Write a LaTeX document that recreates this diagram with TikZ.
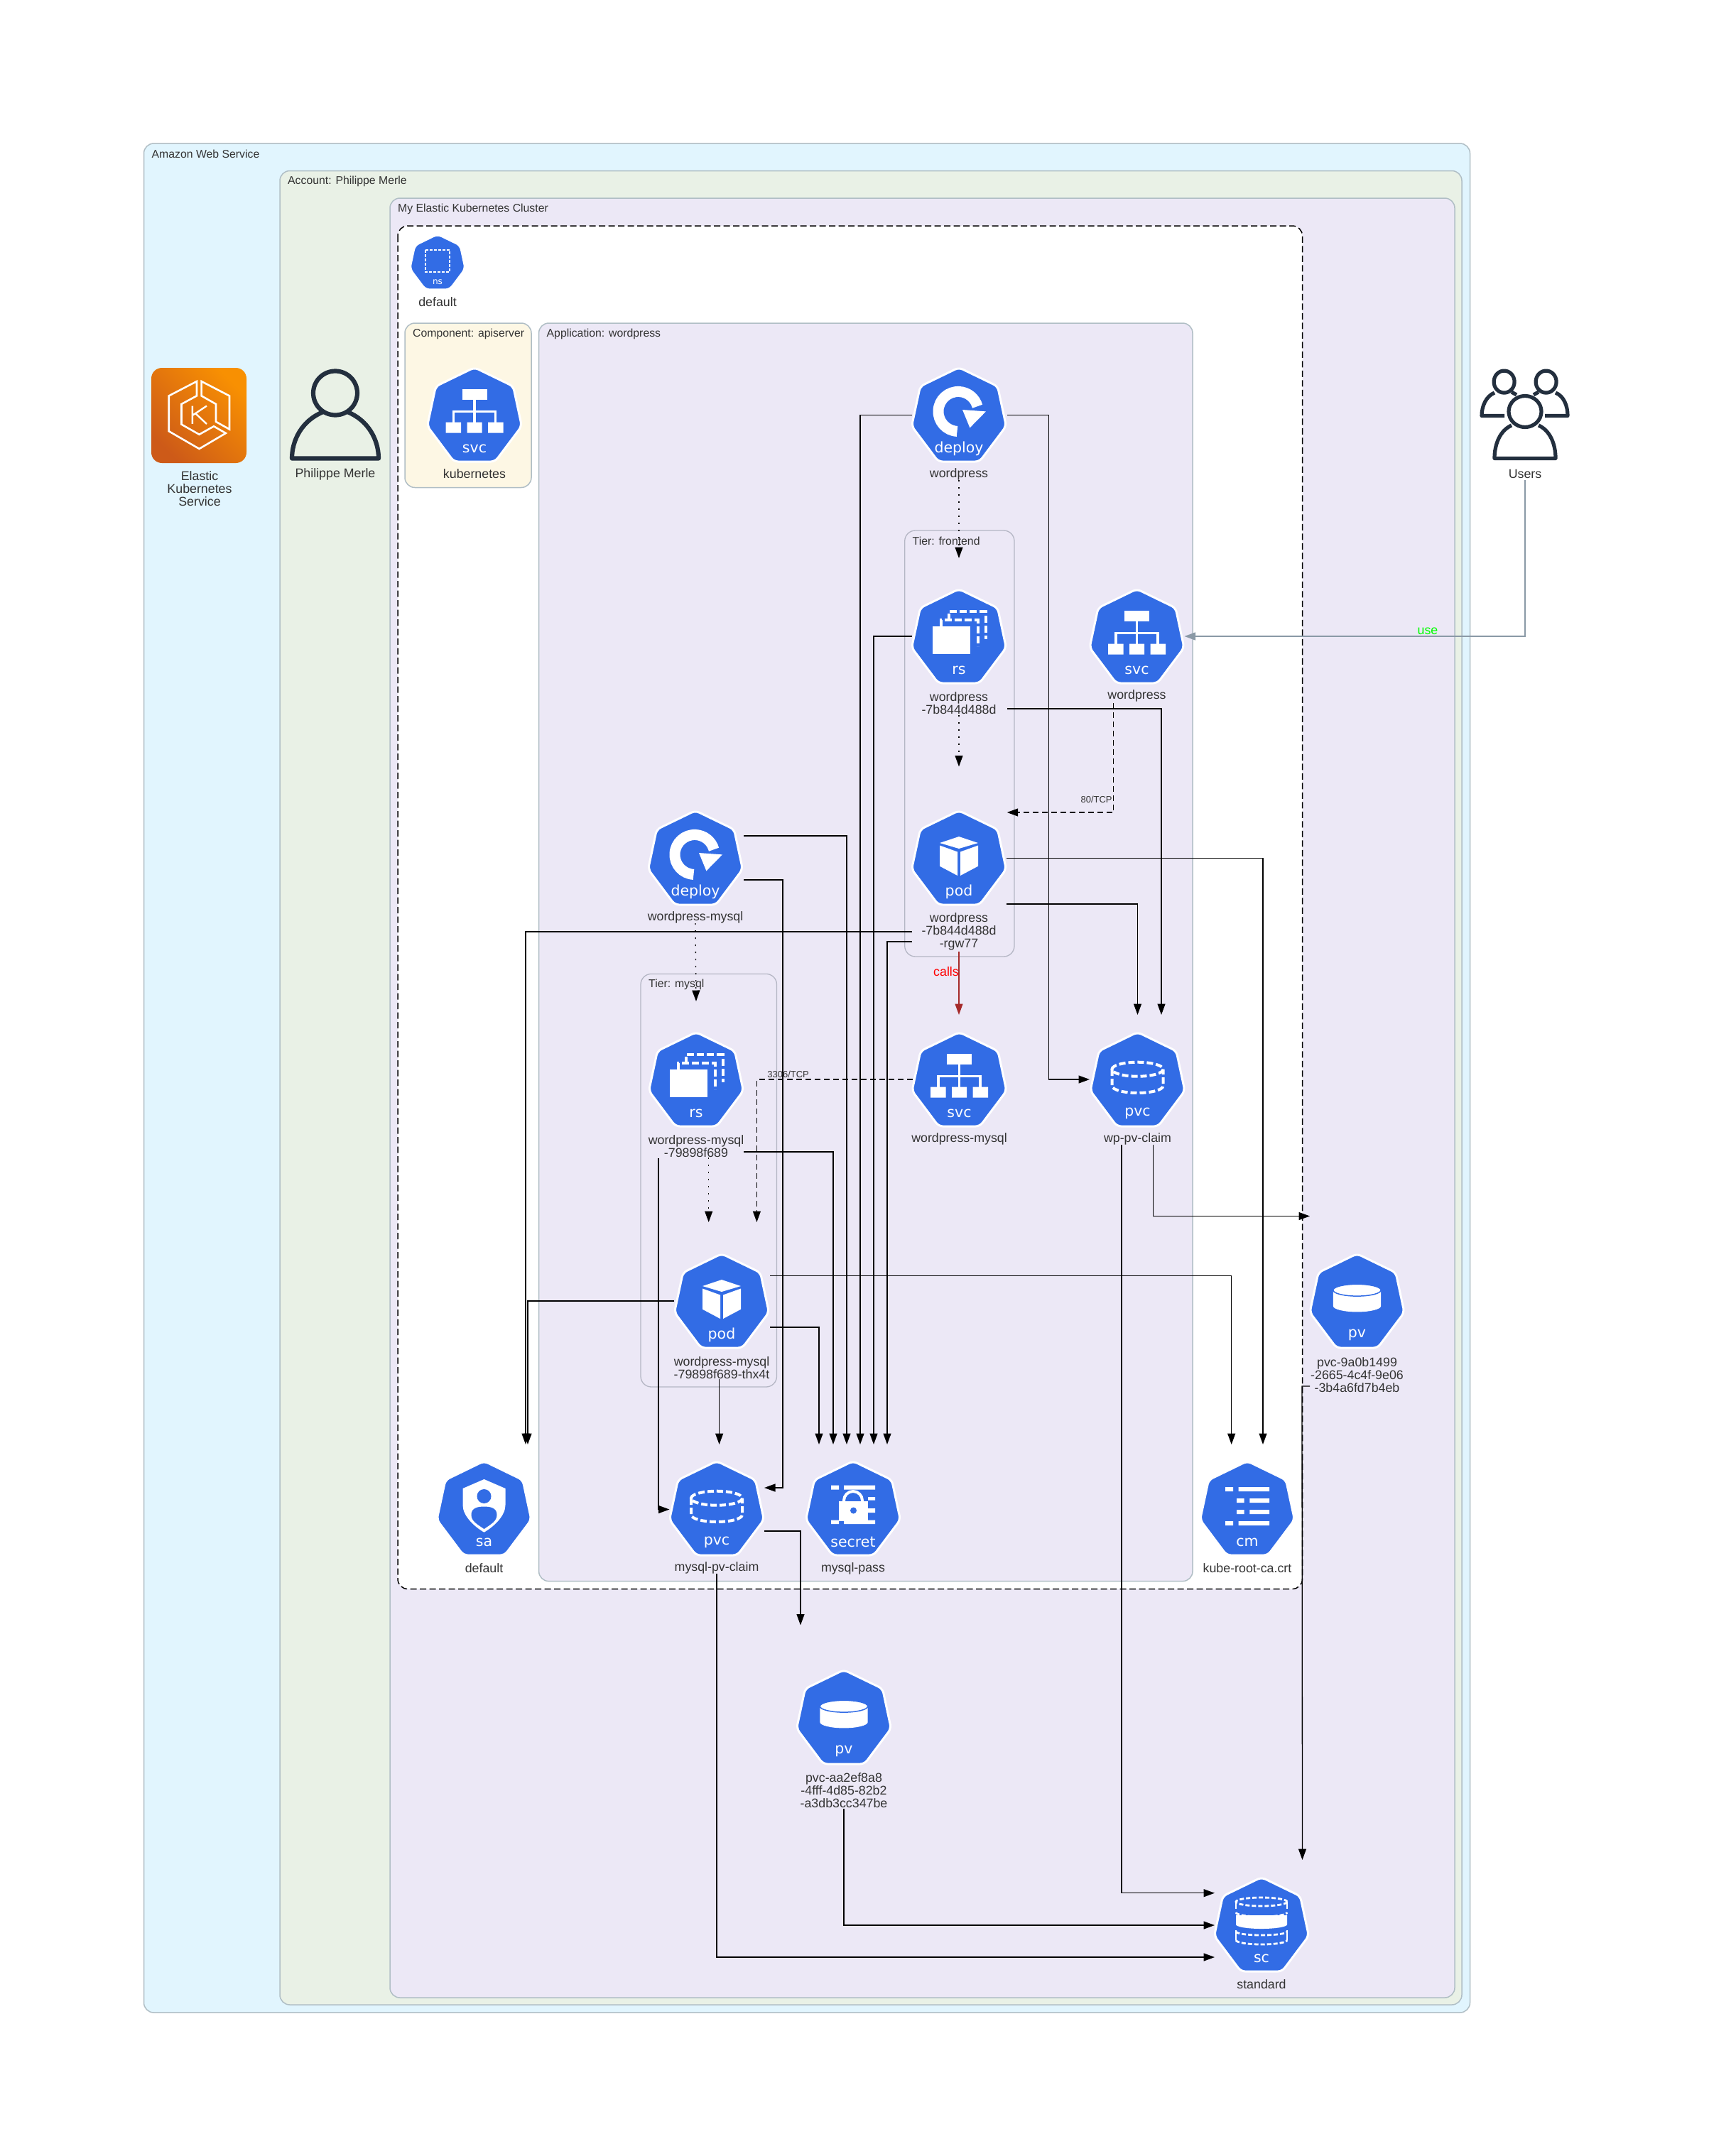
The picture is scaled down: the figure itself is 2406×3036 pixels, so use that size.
\documentclass[tikz,border=0pt]{standalone}
\usepackage{fontspec}
\setmainfont{Liberation Sans}
\newfontfamily\iconfont{DejaVu Sans}
\usetikzlibrary{calc,arrows.meta}
\definecolor{kblue}{HTML}{326CE5}
\definecolor{awsfill}{HTML}{E1F5FE}
\definecolor{acctfill}{HTML}{E9F1E6}
\definecolor{clusfill}{HTML}{ECE8F6}
\definecolor{compfill}{HTML}{FDF7E4}
\definecolor{boxline}{HTML}{B0BEC5}
\definecolor{tierline}{HTML}{B4B6C4}
\definecolor{ink}{HTML}{333333}
\definecolor{navy}{HTML}{232F3E}
\definecolor{usegray}{HTML}{8A99A6}
\definecolor{callbrown}{HTML}{A52A2A}
\definecolor{eksdark}{RGB}{205,90,24}
\definecolor{ekslight}{RGB}{248,144,2}
\tikzset{
  contbox/.style={draw=boxline,line width=1.5pt,rounded corners=14pt},
  tierbox/.style={draw=tierline,line width=1.3pt,rounded corners=15pt},
  nsbox/.style={draw=black,fill=white,line width=1.5pt,dash pattern=on 9pt off 4.5pt,rounded corners=14pt},
  conttitle/.style={anchor=west,inner sep=0pt,text=ink,font=\fontsize{15.8pt}{18pt}\selectfont},
  lbl/.style={align=center,inner sep=0pt,text=ink,font=\fontsize{17.8pt}{18.3pt}\selectfont},
  edgelbl/.style={inner sep=0pt,text=ink,font=\fontsize{13pt}{15pt}\selectfont},
  iconbox/.style={inner sep=0pt,outer sep=0pt},
  hept/.style={fill=kblue,draw=white,line width=3pt,rounded corners=6pt},
  icontag/.style={inner sep=0pt,text=white,font=\iconfont\fontsize{20.5pt}{22pt}\selectfont},
  wdash/.style={draw=white,line width=4pt,dash pattern=on 10pt off 4pt},
  edge/.style={draw=black,line width=1.3pt,-{Triangle[length=15.5pt,width=11pt]}},
  edgedash/.style={edge,dash pattern=on 8pt off 5pt},
  edgedot/.style={edge,dash pattern=on 2pt off 8pt},
  usedge/.style={draw=usegray,line width=1.4pt,-{Triangle[length=15.5pt,width=11pt]}},
  calledge/.style={draw=callbrown,line width=1.3pt,-{Triangle[length=15.5pt,width=11pt]}},
  person/.style={draw=navy,line width=6.2pt,line join=round}
}
\newcommand{\KubeIcon}[6]{%
  \node[iconbox,minimum size=#4*132pt] (#1) at (#2,#3) {};
  \begin{scope}[shift={(#2,#3)},scale=#4]
    \draw[hept] (0,-66.5) -- (54.5,-40) -- (66.5,16) -- (29,66) -- (-29,66) -- (-66.5,16) -- (-54.5,-40) -- cycle;
    #5
    \node[icontag,transform shape] (#1-tag) at (0,47.5) {#6};
  \end{scope}}
\newcommand{\GlyphDeploy}{%
  \draw[draw=white,line width=15pt] (-2.5,23.4) arc[start angle=93,end angle=345,radius=28];
  \fill[white] (5,-7) -- (38,-4.6) -- (15.4,18.4) -- cycle;}
\newcommand{\GlyphSvc}{%
  \fill[white] (-17.5,-36) rectangle (17.5,-21);
  \draw[draw=white,line width=3.5pt] (0,-21) -- (0,11) (-29.5,11) -- (-29.5,-4.6) -- (29.5,-4.6) -- (29.5,11);
  \fill[white] (-40.5,10.7) rectangle (-19,25.5) (-10.5,10.7) rectangle (10.5,25.5) (19,10.7) rectangle (40.5,25.5);}
\newcommand{\GlyphRs}{%
  \draw[wdash] (-14,-22) -- (-14,-34.7) -- (37.5,-34.7) -- (37.5,4);
  \draw[wdash] (-25,-14) -- (-25,-23) -- (27,-23) -- (27,14);
  \fill[white] (-37.5,-13.8) rectangle (15.5,25);}
\newcommand{\GlyphPod}{%
  \fill[white] (0,-30) -- (27,-21) -- (0,-13) -- (-27,-21) -- cycle;
  \fill[white] (-27,-17.5) -- (-2,-8.5) -- (-2,25) -- (-27,11.7) -- cycle;
  \fill[white] (27,-17.5) -- (2,-8.5) -- (2,25) -- (27,11.7) -- cycle;}
\newcommand{\GlyphPvc}{%
  \draw[wdash,dash pattern=on 9pt off 4pt] (0,-14.3) ellipse[x radius=36,y radius=10];
  \draw[wdash,dash pattern=on 9pt off 4pt] (-36,-14) -- (-36,9) arc[start angle=180,end angle=0,x radius=36,y radius=10] -- (36,-14);}
\newcommand{\GlyphPv}{%
  \fill[white] (-33.7,-15) -- (-33.7,7) arc[start angle=180,end angle=0,x radius=33.7,y radius=8.4] -- (33.7,-15) -- cycle;
  \draw[draw=kblue,fill=white,line width=1.5pt] (0,-15.3) ellipse[x radius=33.7,y radius=8.4];}
\newcommand{\GlyphSecret}{%
  \fill[white] (-31,-32.5) rectangle (-20,-26.4) (-13,-32.5) rectangle (31,-26.4);
  \fill[white] (-31,16.5) rectangle (-20,22) (-13,16.5) rectangle (31,22);
  \fill[white] (21,-16) rectangle (31,-11.5) (21,0) rectangle (31,6);
  \draw[draw=white,line width=4pt] (-13,-10) -- (-13,-11) arc[start angle=180,end angle=360,x radius=13,y radius=13] -- (13,-10);
  \fill[white] (-20,-10) rectangle (21,17.6);
  \fill[kblue] (0.5,3) circle[radius=4.5];}
\newcommand{\GlyphCm}{%
  \fill[white] (-31,-30) rectangle (-20,-24) (-12.3,-30) rectangle (31,-24);
  \fill[white] (-15,-14) rectangle (-4.3,-8) (3.3,-14) rectangle (31,-8);
  \fill[white] (-15,2) rectangle (-4.3,8) (3.3,2) rectangle (31,8);
  \fill[white] (-31,18) rectangle (-20,24) (-12.3,18) rectangle (31,24);}
\newcommand{\GlyphSa}{%
  \fill[white] (0,-41) -- (30,-28) -- (30,-4.6) .. controls (30,10) and (15,25) .. (0,33.7) .. controls (-15,25) and (-30,10) .. (-30,-4.6) -- (-30,-28) -- cycle;
  \fill[kblue] (0,-17) ellipse[x radius=10,y radius=10];
  \fill[kblue] (0,29) .. controls (-10,22) and (-18,18) .. (-18,9) .. controls (-18,-1) and (-8,-2.5) .. (0,-2.5) .. controls (8,-2.5) and (18,-1) .. (18,9) .. controls (18,18) and (10,22) .. (0,29) -- cycle;}
\newcommand{\GlyphNs}{%
  \draw[draw=white,line width=2pt,dash pattern=on 4pt off 2pt] (-29,-28) rectangle (29,24);}
\newcommand{\GlyphSc}{%
  \draw[draw=white,line width=2.8pt,dash pattern=on 6pt off 3pt] (0,-32) ellipse[x radius=36,y radius=6];
  \draw[draw=white,line width=2.8pt] (-36,-32) -- (-36,-22) (36,-32) -- (36,-22);
  \fill[white] (-36,-13) -- (-36,0) arc[start angle=180,end angle=0,x radius=36,y radius=6] -- (36,-13) -- cycle;
  \draw[draw=white,line width=2.8pt,dash pattern=on 6pt off 3pt] (-36,-17) arc[start angle=180,end angle=0,x radius=36,y radius=6];
  \draw[draw=white,line width=2.8pt,dash pattern=on 6pt off 3pt] (-36,10) arc[start angle=180,end angle=0,x radius=36,y radius=5];
  \draw[draw=white,line width=2.8pt] (-36,8) -- (-36,22) (36,8) -- (36,22);
  \draw[draw=white,line width=2.8pt,dash pattern=on 6pt off 3pt] (-36,22) arc[start angle=180,end angle=0,x radius=36,y radius=6];}
\begin{document}
\begin{tikzpicture}[x=1pt,y=-1pt]
\useasboundingbox (0,0) rectangle (2406,3036);
\fill[white] (0,0) rectangle (2406,3036);
% containers
\draw[contbox,fill=awsfill] (202.5,202) rectangle (2069.5,2834);
\draw[contbox,fill=acctfill] (394,240.5) rectangle (2058,2823);
\draw[contbox,fill=clusfill] (549,279) rectangle (2048,2813);
\draw[nsbox] (560,318) rectangle (1833.5,2237.5);
\draw[contbox,fill=compfill] (570,455) rectangle (748,686.5);
\draw[contbox,fill=clusfill] (758.6,455) rectangle (1679,2226.6);
\draw[tierbox] (1273.7,747) rectangle (1428,1347);
\draw[tierbox] (902,1371.4) rectangle (1093.5,1953);
\node[conttitle] (tAws) at (213.5,217) {Amazon Web Service};
\node[conttitle] (tAcct) at (405,255.5) {Account: Philippe Merle};
\node[conttitle] (tClus) at (560,294) {My Elastic Kubernetes Cluster};
\node[conttitle] (tComp) at (581,470) {Component: apiserver};
\node[conttitle] (tApp) at (769.5,470) {Application: wordpress};
\node[conttitle] (tFront) at (1284.5,762) {Tier: frontend};
\node[conttitle] (tMysql) at (913,1386) {Tier: mysql};
% EKS icon
\node[iconbox,minimum size=134pt] (eks) at (280,585) {};
\shade[rounded corners=15pt,left color=eksdark,right color=ekslight,shading angle=135] (213,518) rectangle (347,652);
\begin{scope}[shift={(280,585)}]
\draw[draw=white,line width=2.6pt,line join=miter] (-3,-48) -- (-42.3,-27.6) -- (-42.3,22.2) -- (0.5,47) -- (37.8,25) -- (21,15.3) -- (0.5,26.8) -- (-24.5,12.6) -- (-24.5,-16) -- (-3,-27.6) -- cycle;
\draw[draw=white,line width=2.6pt,line join=miter] (3.6,-48) -- (43,-27.6) -- (43,19.5) -- (24,8.8) -- (24,-16) -- (3.6,-27.6) -- cycle;
\draw[draw=white,line width=2.4pt] (-9.2,-13.4) -- (-9.2,11.9) (11,-13.4) -- (-9.2,0) (-5,-3) -- (11,12);
\end{scope}
\node[lbl] (eksL) at (281,688) {Elastic\\Kubernetes\\Service};
% Philippe Merle
\node[iconbox,minimum width=126pt,minimum height=128pt] (philippe) at (472,584) {};
\draw[person] (472,553.5) ellipse[x radius=31,y radius=31];
\draw[person] (455,580) .. controls (425,592) and (411,620) .. (411,645.5) -- (533,645.5) .. controls (533,620) and (519,592) .. (489,580);
\node[lbl] (philippeL) at (472,668) {Philippe Merle};
% Users
\node[iconbox,minimum width=126pt,minimum height=128pt] (users) at (2147,590) {};
\begin{scope}[person/.append style={line width=5.2pt}]
\draw[person] (2117.6,537.6) ellipse[x radius=14.5,y radius=15.5];
\draw[person] (2176.6,537.6) ellipse[x radius=14.5,y radius=15.5];
\draw[person] (2104,553) .. controls (2092,558) and (2086,572) .. (2086,585.5) -- (2118,585.5);
\draw[person] (2128,552) -- (2135,556);
\draw[person] (2190,553) .. controls (2202,558) and (2207,572) .. (2207,585.5) -- (2175,585.5);
\draw[person] (2166,552) -- (2159,556);
\draw[person] (2147,579.5) ellipse[x radius=23,y radius=22];
\draw[person] (2128,599) .. controls (2112,606) and (2104,625) .. (2104,645.5) -- (2190,645.5) .. controls (2190,625) and (2182,606) .. (2166,599);
\end{scope}
\node[lbl] (usersL) at (2147,667) {Users};
% Kubernetes icons
\KubeIcon{ns}{616}{369}{0.59}{\GlyphNs}{ns}
\node[lbl] (nsL) at (616,425) {default};
\KubeIcon{sk}{668}{584}{1}{\GlyphSvc}{svc}
\node[lbl] (skL) at (668,667) {kubernetes};
\KubeIcon{dw}{1350}{584}{1}{\GlyphDeploy}{deploy}
\node[lbl] (dwL) at (1350,668) {wordpress};
\KubeIcon{rw}{1350}{896}{1}{\GlyphRs}{rs}
\node[lbl] (rwL) at (1350,990) {wordpress\\-7b844d488d};
\KubeIcon{sw}{1600.5}{896}{1}{\GlyphSvc}{svc}
\node[lbl] (swL) at (1600.5,980) {wordpress};
\KubeIcon{pw}{1350}{1208}{1}{\GlyphPod}{pod}
\node[lbl] (pwL) at (1350,1312) {wordpress\\-7b844d488d\\-rgw77};
\KubeIcon{dm}{979}{1208}{1}{\GlyphDeploy}{deploy}
\node[lbl] (dmL) at (979,1292) {wordpress-mysql};
\KubeIcon{rm}{980}{1520}{1}{\GlyphRs}{rs}
\node[lbl] (rmL) at (980,1614) {wordpress-mysql\\-79898f689};
\KubeIcon{sm}{1350.5}{1520}{1}{\GlyphSvc}{svc}
\node[lbl] (smL) at (1350.5,1604) {wordpress-mysql};
\KubeIcon{pvw}{1601.5}{1520}{1}{\GlyphPvc}{pvc}
\node[lbl] (pvwL) at (1601.5,1604) {wp-pv-claim};
\KubeIcon{pm}{1016}{1832}{1}{\GlyphPod}{pod}
\node[lbl] (pmL) at (1016,1926) {wordpress-mysql\\-79898f689-thx4t};
\KubeIcon{pvm}{1009}{2124}{1}{\GlyphPvc}{pvc}
\node[lbl] (pvmL) at (1009,2208) {mysql-pv-claim};
\KubeIcon{sec}{1201}{2124}{1}{\GlyphSecret}{secret}
\node[lbl] (secL) at (1201,2208.5) {mysql-pass};
\KubeIcon{sa}{681.5}{2124}{1}{\GlyphSa}{sa}
\node[lbl] (saL) at (681.5,2208) {default};
\KubeIcon{cm}{1756}{2124}{1}{\GlyphCm}{cm}
\node[lbl] (cmL) at (1756,2208) {kube-root-ca.crt};
\KubeIcon{pva}{1910.5}{1832}{1}{\GlyphPv}{pv}
\node[lbl] (pvaL) at (1910.5,1936) {pvc-9a0b1499\\-2665-4c4f-9e06\\-3b4a6fd7b4eb};
\KubeIcon{pvb}{1188}{2418}{1}{\GlyphPv}{pv}
\node[lbl] (pvbL) at (1188,2521) {pvc-aa2ef8a8\\-4fff-4d85-82b2\\-a3db3cc347be};
\KubeIcon{sc}{1776}{2710}{1}{\GlyphSc}{sc}
\node[lbl] (scL) at (1776,2794) {standard};
% connectors
\draw[edge] ($(dw)+(-66,0.6)$) -| ($(sec)+(10,-90)$);
\draw[edge] ($(dw)+(68,0.6)$) -| ($(pvw)+(-125,0)$) -- ($(pvw)+(-67.5,0)$);
\draw[edgedot] ($(dw)+(0,92)$) -- ($(rw)+(0,-110)$);
\draw[edge] ($(rw)+(-66,0)$) -| ($(sec)+(29,-90)$);
\draw[edge] ($(rw)+(68,102)$) -| ($(pvw)+(33.5,-91)$);
\draw[edgedot] ($(rw)+(0,111)$) -- ($(pw)+(0,-128.5)$);
\draw[edgedash] ($(sw)+(-33,94)$) |- ($(pw)+(67.7,-64)$);
\node[edgelbl] (lb80) at (1543.6,1126) {80/TCP};
\draw[usedge] ($(users)+(0,86)$) |- ($(sw)+(67,0)$);
\node[inner sep=0pt,text=green,font=\fontsize{17.8pt}{18pt}\selectfont] (lbUse) at (2010,889) {use};
\draw[edge] ($(pw)+(67,0.6)$) -| ($(cm)+(22,-90)$);
\draw[edge] ($(pw)+(67,65)$) -| ($(pvw)+(0,-91)$);
\draw[edge] ($(pw)+(-66,118)$) -| ($(sec)+(48,-90)$);
\draw[edge] ($(pw)+(-66,104)$) -| ($(sa)+(58.5,-90)$);
\draw[edge] ($(pm)+(-67,0)$) -| ($(sa)+(61.5,-90)$);
\draw[calledge] ($(pw)+(0,132)$) -- ($(sm)+(-0.5,-91)$);
\node[inner sep=0pt,text=red,font=\fontsize{17.8pt}{18pt}\selectfont] (lbCalls) at (1332,1368) {calls};
\draw[edgedot] ($(dm)+(0,92)$) -- ($(rm)+(0,-110)$);
\draw[edge] ($(dm)+(68,-31)$) -| ($(sec)+(-9,-90)$);
\draw[edge] ($(dm)+(68,31)$) -| ($(pvm)+(93,-29)$) -- ($(pvm)+(67,-29)$);
\draw[edge] ($(rm)+(67,102)$) -| ($(sec)+(-28,-90)$);
\draw[edgedot] ($(rm)+(17.7,110)$) -- ($(pm)+(-18.3,-111)$);
\draw[edge] ($(rm)+(-53,110.6)$) |- ($(pvm)+(-66.5,1.5)$);
\draw[edgedash] ($(sm)+(-66,0)$) -| ($(pm)+(49.4,-111)$);
\node[edgelbl] (lb3306) at (1109.6,1513) {3306/TCP};
\draw[edge] ($(pm)+(68,37)$) -| ($(sec)+(-48,-90)$);
\draw[edge] ($(pm)+(68,-35.6)$) -| ($(cm)+(-22.3,-90)$);
\draw[edge] ($(pm)+(-3.4,110)$) -- ($(pvm)+(3.6,-90)$);
\draw[edge] ($(pvm)+(67,32)$) -| ($(pvb)+(-61,-129.5)$);
\draw[edge] ($(pvm)+(0,92)$) |- ($(sc)+(-66,46)$);
\draw[edge] ($(pvb)+(0,129)$) |- ($(sc)+(-66,1)$);
\draw[edge] ($(pvw)+(-22.5,92)$) |- ($(sc)+(-66,-44.3)$);
\draw[edge] ($(pvw)+(22,92)$) |- ($(pva)+(-66.5,-119.5)$);
\draw[edge] ($(pva)+(-66.5,120)$) -- ($(pva)+(-77.5,120)$) -- ($(sc)+(57.5,-91)$);
\end{tikzpicture}
\end{document}
